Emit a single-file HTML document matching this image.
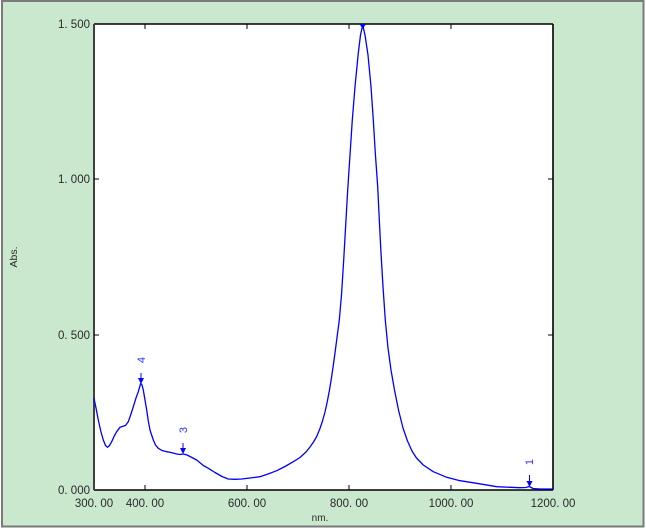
<!DOCTYPE html>
<html>
<head>
<meta charset="utf-8">
<style>
html,body{margin:0;padding:0;background:#ffffff;}
body{width:646px;height:531px;overflow:hidden;position:relative;}
svg{position:absolute;left:0;top:0;}
text{font-family:"Liberation Sans","DejaVu Sans",sans-serif;font-size:11.5px;fill:#2a2a2a;}
.lbl{fill:#3030ff;font-size:11px;}
</style>
</head>
<body>
<svg width="646" height="531" viewBox="0 0 646 531" xmlns="http://www.w3.org/2000/svg">
  <rect x="2" y="1" width="641.5" height="525.5" fill="#CAE8CE" stroke="#7a7a7a" stroke-width="2"/>
  <rect x="94" y="24" width="459" height="466" fill="#ffffff"/>
  <line x1="94" y1="24" x2="553" y2="24" stroke="#000" stroke-width="1.6"/>
  <line x1="553" y1="24" x2="553" y2="490" stroke="#000" stroke-width="1.6"/>
  <line x1="94" y1="490" x2="553" y2="490" stroke="#000" stroke-width="1.6"/>
  <line x1="94" y1="24" x2="94" y2="490" stroke="#404040" stroke-width="2"/>
  <g stroke="#000" stroke-width="1">
    <line x1="145" y1="490" x2="145" y2="485"/>
    <line x1="247" y1="490" x2="247" y2="485"/>
    <line x1="349" y1="490" x2="349" y2="485"/>
    <line x1="451" y1="490" x2="451" y2="485"/>
    <line x1="145" y1="24" x2="145" y2="29"/>
    <line x1="247" y1="24" x2="247" y2="29"/>
    <line x1="349" y1="24" x2="349" y2="29"/>
    <line x1="451" y1="24" x2="451" y2="29"/>
    <line x1="94" y1="179" x2="99" y2="179"/>
    <line x1="94" y1="335" x2="99" y2="335"/>
    <line x1="553" y1="179" x2="548" y2="179"/>
    <line x1="553" y1="335" x2="548" y2="335"/>
  </g>
  <g text-anchor="end">
    <text x="90" y="28">1. 500</text>
    <text x="90" y="183">1. 000</text>
    <text x="90" y="339">0. 500</text>
    <text x="90" y="494">0. 000</text>
  </g>
  <g text-anchor="middle">
    <text x="94" y="507">300. 00</text>
    <text x="145" y="507">400. 00</text>
    <text x="247" y="507">600. 00</text>
    <text x="349" y="507">800. 00</text>
    <text x="451" y="507">1000. 00</text>
    <text x="553" y="507">1200. 00</text>
  </g>
  <text x="320" y="521" text-anchor="middle" style="font-size:10px">nm.</text>
  <text x="0" y="0" text-anchor="middle" style="font-size:10.5px" transform="translate(17,257) rotate(-90)">Abs.</text>

  <polyline fill="none" stroke="#0000ff" stroke-width="1.3" stroke-linejoin="round" points="
94,398.3 96,408 98.3,420 101,432 103.3,440 105.5,445.5 107.5,447.3 109.5,445.5 111.7,441.7 114,436.5 116.7,431.7 120,427.3 123,426.3 125.5,425.5 128.3,421.7 131,414 133.3,406.7 136,398 138.3,391.7 140.7,383.3 142,385 143.3,390 145,400 146.7,410 148.3,421 150,430 153.3,440 155.5,445 158.3,448.3 162,450.5 166.7,451.7 171,452.5 176.7,454 180,454.5 183.3,454 187,455 190,456.5 196.7,460 203.3,465.5 208.3,468.3 215,472.5 222,476.5 228.3,479 235,479.3 241.7,479 250,478 260,476.7 268,474 276.7,470.7 285,466.5 293.3,461.7 300,457.5 306,452 310,447 313.5,442 316.7,436.5 319.8,429 322.5,421 325,412 327.2,402 329.3,391 331.3,379 333.2,366 335,353 337.2,336 339.3,320 341.5,295 343.7,260 345.7,225 347.7,190 350,155 352.3,120 355,86.7 358.3,53 360.5,35 362.7,25 365,35 368,55 371,86.7 373.3,120 375.3,153 377.7,186.7 379.3,220 381,253 383,286.7 385.3,320 388,348 391,370 394.5,390 398.5,410 403,428 407.5,441 412,451 416.5,458 423.3,465 433.3,471.7 446.7,477.3 460,480.7 476.7,483.3 496.7,486.7 520,487.7 526,487.5 529.3,486.5 533,488.5 540,489 553,489"/>

  <g fill="#0000ff" stroke="#0000ff" stroke-width="1">
    <line x1="141" y1="373" x2="141" y2="381"/>
    <polygon points="138,378 144,378 141,384" stroke="none"/>
    <line x1="183" y1="443" x2="183" y2="451"/>
    <polygon points="180,448 186,448 183,454" stroke="none"/>
    <line x1="529.5" y1="475" x2="529.5" y2="483"/>
    <polygon points="526.5,481 532.5,481 529.5,487" stroke="none"/>
    <polygon points="359.5,24 366,24 362.7,29" stroke="none"/>
  </g>
  <text class="lbl" x="0" y="0" text-anchor="middle" transform="translate(145,360) rotate(-90)">4</text>
  <text class="lbl" x="0" y="0" text-anchor="middle" transform="translate(187,430) rotate(-90)">3</text>
  <text class="lbl" x="0" y="0" text-anchor="middle" transform="translate(533,462) rotate(-90)">1</text>
</svg>
</body>
</html>
